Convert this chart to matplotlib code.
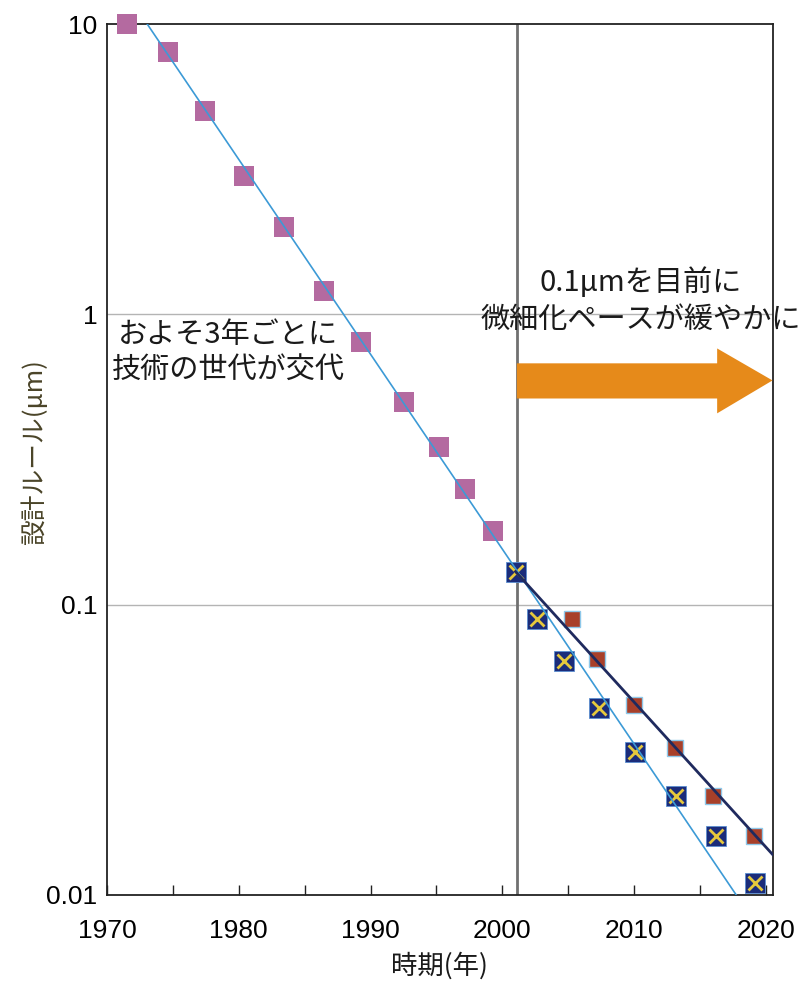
import matplotlib
matplotlib.use("Agg")
import matplotlib.pyplot as plt
from matplotlib.patches import Polygon
from matplotlib.ticker import FixedLocator, NullLocator

plt.rcParams['font.family'] = ['Noto Sans CJK JP', 'DejaVu Sans']

# --- data ---
past_years = [1971.5, 1974.6, 1977.4, 1980.4, 1983.4, 1986.5, 1989.3, 1992.5, 1995.2, 1997.2, 1999.3]
past_rule = [10, 8.0, 5.0, 3.0, 2.0, 1.2, 0.8, 0.5, 0.35, 0.25, 0.18]

fast_years = [2001.0, 2002.6, 2004.7, 2007.3, 2010.1, 2013.2, 2016.2, 2019.2]
fast_rule = [0.13, 0.089, 0.064, 0.044, 0.031, 0.022, 0.016, 0.011]

slow_years = [2005.3, 2007.2, 2010.0, 2013.1, 2016.0, 2019.1]
slow_rule = [0.089, 0.065, 0.045, 0.032, 0.022, 0.016]

trend_fast_years = [1973.05, 2017.75]
trend_fast_rule = [10, 0.01]
trend_slow_years = [2001.0, 2020.5]
trend_slow_rule = [0.13, 0.0138]

boundary_year = 2001.1

x_major = [1970, 1980, 1990, 2000, 2010, 2020]
x_minor = [1975, 1985, 1995, 2005, 2015]
y_ticks = [0.01, 0.1, 1, 10]
y_ticklabels = ['0.01', '0.1', '1', '10']

# --- figure ---
fig = plt.figure(figsize=(8.07, 9.81), dpi=100)
ax = fig.add_axes([107/807, 1 - 895/981, (772.5 - 107)/807, (895 - 24)/981])
ax.set_yscale('log')
ax.set_xlim(1970, 2020.5)
ax.set_ylim(0.01, 10)

for yv in [1, 0.1]:
    ax.axhline(yv, color='#b4b4b4', lw=1.0, zorder=1)

ax.axvline(boundary_year, color='#707070', lw=2.0, zorder=2)

# markers
ax.plot(past_years, past_rule, 's', ms=14.5, color='#B46AA0', mec='#B46AA0', mew=0,
        zorder=3, clip_on=False)
ax.plot(slow_years, slow_rule, 's', ms=11.5, color='#A8402A', mec='#8EC8EA', mew=1.0,
        zorder=3, clip_on=False)
ax.plot(fast_years, fast_rule, 's', ms=14.5, color='#1B2C7A', mec='#5B8FD0', mew=0.6,
        zorder=3, clip_on=False)
ax.plot(fast_years, fast_rule, 'x', ms=9.5, color='#E6C83C', mew=2.0, zorder=4, clip_on=False)

# trend lines
ax.plot(trend_fast_years, trend_fast_rule, color='#3C9AD6', lw=1.2, zorder=5)
ax.plot(trend_slow_years, trend_slow_rule, color='#1F2A5E', lw=2.0, zorder=5)

# arrow
x0 = boundary_year
xh = 2016.3
xt = 2020.5
arrow = Polygon([(x0, 0.678), (xh, 0.678), (xh, 0.763), (xt, 0.592),
                 (xh, 0.456), (xh, 0.513), (x0, 0.513)],
                closed=True, facecolor='#E68A1A', edgecolor='none', zorder=6,
                transform=ax.transData, clip_on=False)
ax.add_patch(arrow)

# texts
ax.text(1979.2, 0.74, 'およそ3年ごとに\n技術の世代が交代', ha='center', va='center',
        fontsize=21, color='#1a1a1a', linespacing=1.22, zorder=7)
ax.text(2010.5, 1.11, '0.1μmを目前に\n微細化ペースが緩やかに', ha='center', va='center',
        fontsize=21, color='#1a1a1a', linespacing=1.3, zorder=7,
        family=['Noto Sans CJK JP', 'DejaVu Sans'])

# axes styling
for s in ax.spines.values():
    s.set_color('#222222')
    s.set_linewidth(1.3)

ax.xaxis.set_major_locator(FixedLocator(x_major))
ax.xaxis.set_minor_locator(FixedLocator(x_minor))
ax.set_xticklabels([str(v) for v in x_major])
ax.tick_params(axis='x', which='both', direction='in', length=7, width=1.0,
               color='#222222', pad=17, labelsize=19)
for lab in ax.get_xticklabels():
    lab.set_family(['Liberation Sans', 'DejaVu Sans'])

ax.yaxis.set_major_locator(FixedLocator(y_ticks))
ax.yaxis.set_minor_locator(NullLocator())
ax.set_yticklabels(y_ticklabels)
ax.tick_params(axis='y', which='both', length=0, pad=7, labelsize=19)
for lab in ax.get_yticklabels():
    lab.set_family(['Liberation Sans', 'DejaVu Sans'])

ax.set_xlabel('時期(年)', fontsize=19, color='#1a1a1a', labelpad=7)
fig.text(35/807, 1 - 452/981, '設計ルール(μm)', rotation=90, ha='center', va='center',
         fontsize=18.5, color='#4a4428')

fig.savefig('out.png', dpi=100, facecolor='white')
